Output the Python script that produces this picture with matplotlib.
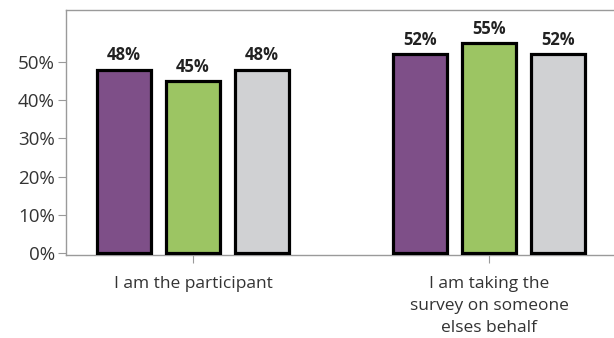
import numpy as np
import matplotlib.pyplot as plt

plt.rcParams['font.family'] = ['Open Sans', 'DejaVu Sans']

categories = ['I am the participant', 'I am taking the\nsurvey on someone\nelses behalf']
series_a = [48, 52]
series_b = [45, 55]
series_c = [48, 52]
colors = ['#7e4f88', '#9cc563', '#d0d1d3']

fig = plt.figure(figsize=(6.14, 3.38), dpi=100)
ax = fig.add_axes([0.1075, 0.2456, 0.8925, 0.7249])

x = np.arange(len(categories))
width = 0.182
offset = 0.233
for i, (vals, col) in enumerate(zip([series_a, series_b, series_c], colors)):
    pos = x + (i - 1) * offset
    ax.bar(pos, vals, width, color=col, edgecolor='black', linewidth=2.3, zorder=3)
    for p, v in zip(pos, vals):
        ax.text(p, v + 2.4, f'{v}%', ha='center', va='baseline', fontsize=12,
                fontweight='bold', color='#222222')

ax.set_xlim(-0.429, 1.422)
ax.set_ylim(-0.5, 63.6)
ax.set_yticks(range(0, 51, 10))
ax.set_yticklabels([f'{t}%' for t in range(0, 51, 10)])
ax.set_xticks(x)
ax.set_xticklabels(categories, fontsize=12.5, color='#333333', linespacing=1.5)

for s in ['left', 'top', 'bottom']:
    ax.spines[s].set_color('#9a9a9a')
    ax.spines[s].set_linewidth(1.0)
ax.spines['right'].set_visible(False)
ax.tick_params(axis='y', length=6, color='#9a9a9a', labelsize=13.5, labelcolor='#333333', pad=2)
ax.tick_params(axis='x', length=6, color='#9a9a9a', pad=9)

fig.savefig('out.png', dpi=100)
